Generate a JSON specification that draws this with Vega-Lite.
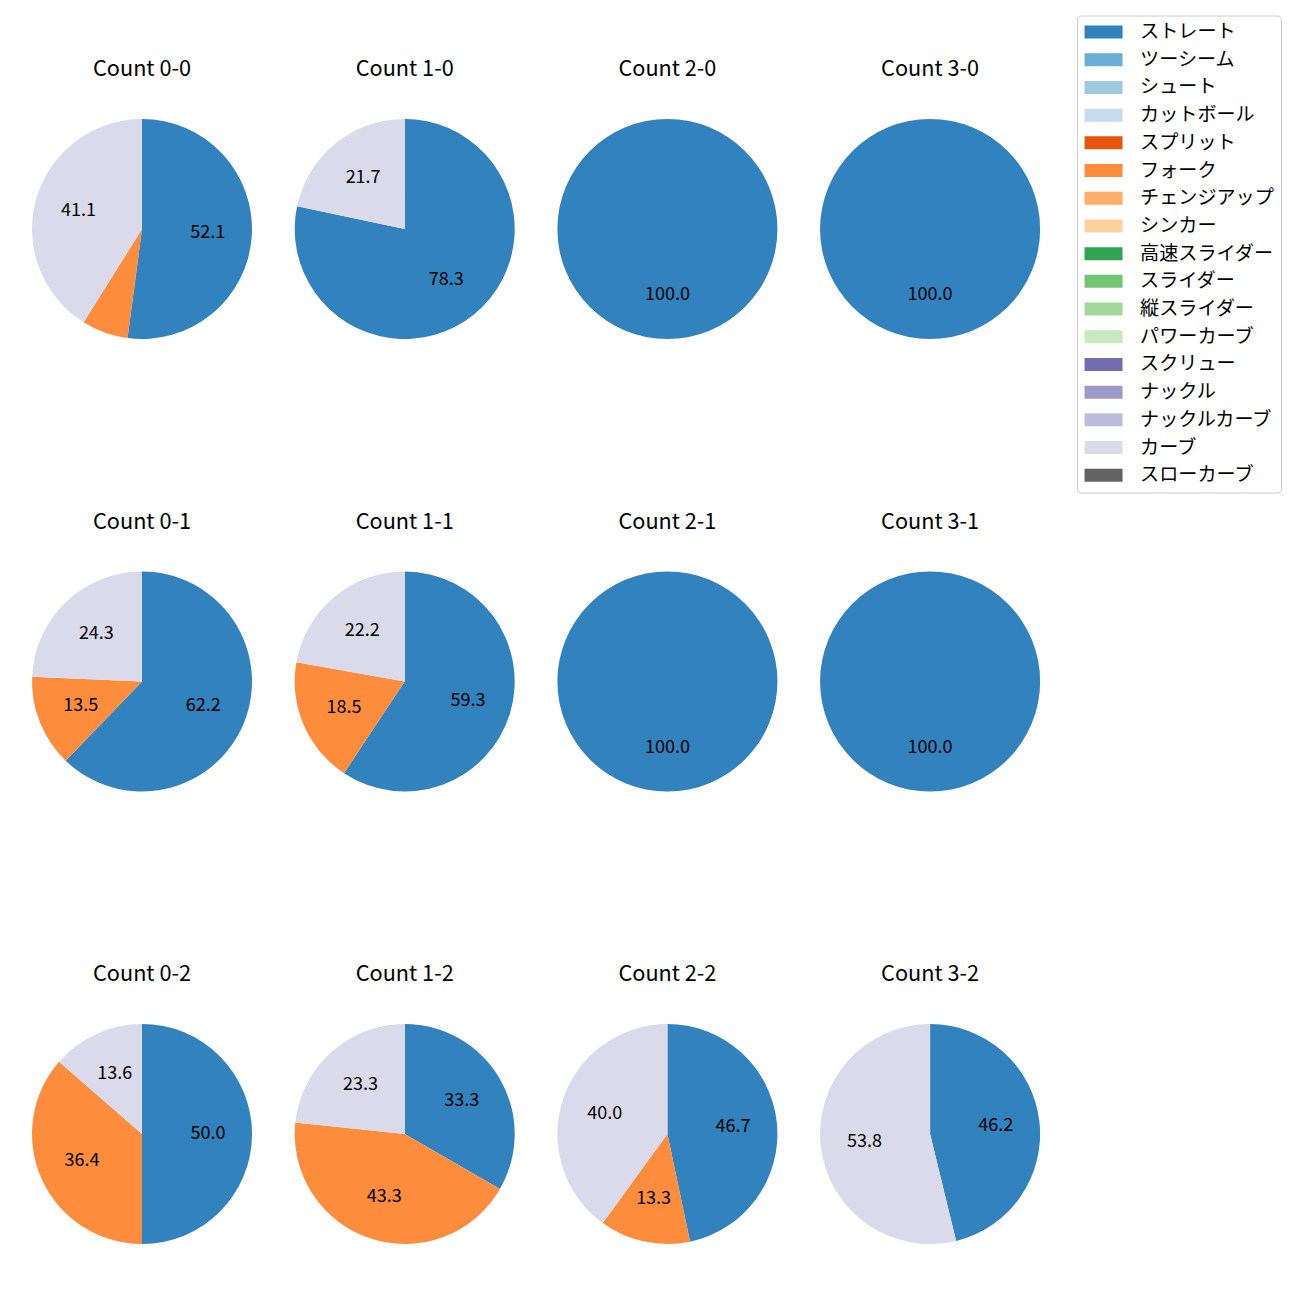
{
  "$schema": "https://vega.github.io/schema/vega-lite/v6.json",
  "padding": {"left": 22, "top": 15, "right": 5, "bottom": 5},
  "data": {
    "values": [
      {"c": "Count 0-0", "p": "ストレート", "v": 52.1, "k": 0},
      {"c": "Count 0-0", "p": "フォーク", "v": 6.8, "k": 5},
      {"c": "Count 0-0", "p": "カーブ", "v": 41.1, "k": 15},
      {"c": "Count 1-0", "p": "ストレート", "v": 78.3, "k": 0},
      {"c": "Count 1-0", "p": "カーブ", "v": 21.7, "k": 15},
      {"c": "Count 2-0", "p": "ストレート", "v": 100.0, "k": 0},
      {"c": "Count 3-0", "p": "ストレート", "v": 100.0, "k": 0},
      {"c": "Count 0-1", "p": "ストレート", "v": 62.2, "k": 0},
      {"c": "Count 0-1", "p": "フォーク", "v": 13.5, "k": 5},
      {"c": "Count 0-1", "p": "カーブ", "v": 24.3, "k": 15},
      {"c": "Count 1-1", "p": "ストレート", "v": 59.3, "k": 0},
      {"c": "Count 1-1", "p": "フォーク", "v": 18.5, "k": 5},
      {"c": "Count 1-1", "p": "カーブ", "v": 22.2, "k": 15},
      {"c": "Count 2-1", "p": "ストレート", "v": 100.0, "k": 0},
      {"c": "Count 3-1", "p": "ストレート", "v": 100.0, "k": 0},
      {"c": "Count 0-2", "p": "ストレート", "v": 50.0, "k": 0},
      {"c": "Count 0-2", "p": "フォーク", "v": 36.4, "k": 5},
      {"c": "Count 0-2", "p": "カーブ", "v": 13.6, "k": 15},
      {"c": "Count 1-2", "p": "ストレート", "v": 33.3, "k": 0},
      {"c": "Count 1-2", "p": "フォーク", "v": 43.3, "k": 5},
      {"c": "Count 1-2", "p": "カーブ", "v": 23.3, "k": 15},
      {"c": "Count 2-2", "p": "ストレート", "v": 46.7, "k": 0},
      {"c": "Count 2-2", "p": "フォーク", "v": 13.3, "k": 5},
      {"c": "Count 2-2", "p": "カーブ", "v": 40.0, "k": 15},
      {"c": "Count 3-2", "p": "ストレート", "v": 46.2, "k": 0},
      {"c": "Count 3-2", "p": "カーブ", "v": 53.8, "k": 15}
    ]
  },
  "columns": 4,
  "spacing": {"column": 22.7, "row": 162.5},
  "facet": {
    "field": "c",
    "type": "nominal",
    "sort": ["Count 0-0", "Count 1-0", "Count 2-0", "Count 3-0", "Count 0-1", "Count 1-1", "Count 2-1", "Count 3-1", "Count 0-2", "Count 1-2", "Count 2-2", "Count 3-2"],
    "header": {"title": null, "labelFont": "Noto Sans CJK JP", "labelFontSize": 21.7, "labelColor": "#000000", "labelPadding": 28}
  },
  "spec": {
    "width": 240,
    "height": 240,
    "encoding": {
      "theta": {"field": "v", "type": "quantitative", "stack": true},
      "order": {"field": "k", "type": "quantitative"}
    },
    "layer": [
      {
        "mark": {"type": "arc", "outerRadius": 110},
        "encoding": {
          "color": {
            "field": "p",
            "type": "nominal",
            "scale": {
              "domain": ["ストレート", "ツーシーム", "シュート", "カットボール", "スプリット", "フォーク", "チェンジアップ", "シンカー", "高速スライダー", "スライダー", "縦スライダー", "パワーカーブ", "スクリュー", "ナックル", "ナックルカーブ", "カーブ", "スローカーブ"],
              "range": ["#3182bd", "#6baed6", "#9ecae1", "#c6dbef", "#e6550d", "#fd8d3c", "#fdae6b", "#fdd0a2", "#31a354", "#74c476", "#a1d99b", "#c7e9c0", "#756bb1", "#9e9ac8", "#bcbddc", "#dadaeb", "#636363"]
            },
            "legend": {
              "orient": "none",
              "legendX": 1055,
              "legendY": -93.5,
              "title": null,
              "labelFont": "Noto Sans CJK JP",
              "labelFontSize": 19.1,
              "labelColor": "#000000",
              "symbolType": "M-3.8,-1.3H3.8V1.3H-3.8Z",
              "symbolSize": 100,
              "symbolStrokeWidth": 0,
              "symbolOpacity": 1,
              "symbolOffset": 10,
              "labelOffset": 27,
              "rowPadding": 7.7,
              "padding": 7,
              "strokeColor": "#cccccc",
              "fillColor": "#ffffff",
              "cornerRadius": 4
            }
          }
        }
      },
      {
        "mark": {"type": "text", "radius": 66, "font": "Noto Sans CJK JP", "fontSize": 18, "color": "#000000", "align": "center", "baseline": "middle"},
        "encoding": {
          "detail": {"field": "p", "type": "nominal"},
          "text": {"field": "v", "type": "quantitative", "format": ".1f"},
          "opacity": {"condition": {"test": "datum.v < 10", "value": 0}, "value": 1}
        }
      }
    ]
  },
  "config": {"view": {"stroke": null}}
}
